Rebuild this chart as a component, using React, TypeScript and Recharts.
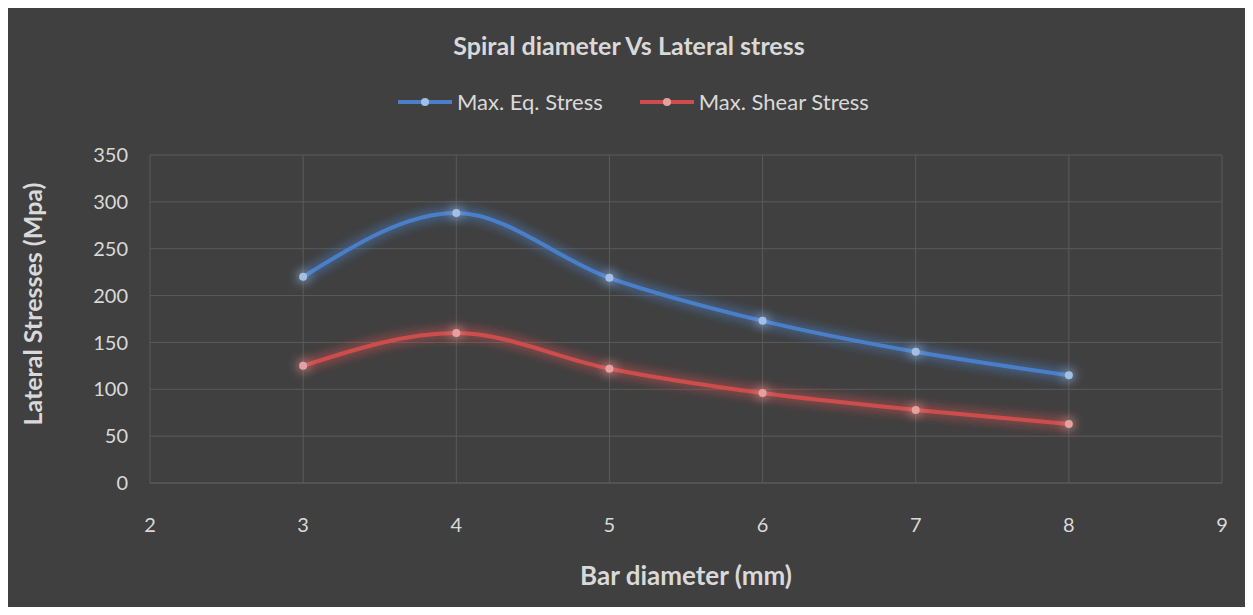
import React from "react";
import { LineChart, Line, XAxis, YAxis, CartesianGrid } from "recharts";

const barDiameters = [3, 4, 5, 6, 7, 8];
const maxEqStress = [220, 288, 219, 173, 140, 115];
const maxShearStress = [125, 160, 122, 96, 78, 63];
const xTicks = [2, 3, 4, 5, 6, 7, 8, 9];
const yTicks = [0, 50, 100, 150, 200, 250, 300, 350];

const FONT = "Lato, 'Open Sans', sans-serif";
const TEXT = "#d9d9d9";
const BLUE = "#4a7fc8";
const RED = "#cd4d4d";

const data = barDiameters.map((d, i) => ({
  d,
  eq: maxEqStress[i],
  shear: maxShearStress[i],
}));

const legendItems = [
  { label: "Max. Eq. Stress", color: BLUE, dot: "#a3bfe4" },
  { label: "Max. Shear Stress", color: RED, dot: "#e6a0a0" },
];

const LegendBox = () => (
  <div
    style={{
      position: "absolute",
      top: 81,
      left: 393,
      display: "flex",
      gap: 37,
      fontFamily: FONT,
      fontSize: 22,
      color: TEXT,
      lineHeight: "26px",
    }}
  >
    {legendItems.map((it) => (
      <div key={it.label} style={{ display: "flex", alignItems: "center", gap: 5 }}>
        <svg width={54} height={12}>
          <line x1={0} y1={6} x2={54} y2={6} stroke={it.color} strokeWidth={4} />
          <circle cx={27} cy={6} r={4} fill={it.dot} />
        </svg>
        <span>{it.label}</span>
      </div>
    ))}
  </div>
);

const titleStyle: React.CSSProperties = {
  position: "absolute",
  fontFamily: FONT,
  fontWeight: 700,
  fontSize: 25,
  color: TEXT,
  whiteSpace: "nowrap",
  lineHeight: "28px",
};

const App = () => {
  return (
    <div style={{ margin: -8, width: 1253, height: 615, background: "#d4d4d4", position: "relative" }}>
      <div style={{ position: "absolute", left: 5, top: 8, width: 1248, height: 607, background: "#404040" }}>
        <LineChart width={1248} height={607} data={data} margin={{ top: 147, right: 31, bottom: 0, left: 0 }}>
          <defs>
            <filter id="glow" filterUnits="userSpaceOnUse" x={0} y={0} width={1248} height={607}>
              <feGaussianBlur in="SourceGraphic" stdDeviation="6" result="blur" />
              <feComponentTransfer in="blur" result="soft">
                <feFuncA type="linear" slope="1.4" />
              </feComponentTransfer>
              <feMerge>
                <feMergeNode in="soft" />
                <feMergeNode in="SourceGraphic" />
              </feMerge>
            </filter>
          </defs>
          <CartesianGrid stroke="#5a5a5a" strokeWidth={1} />
          <XAxis
            type="number"
            dataKey="d"
            domain={[2, 9]}
            ticks={xTicks}
            height={132}
            axisLine={{ stroke: "#5a5a5a" }}
            tickLine={false}
            tickMargin={29}
            tick={{ fill: TEXT, fontSize: 20, fontFamily: FONT }}
          />
          <YAxis
            width={145}
            domain={[0, 350]}
            ticks={yTicks}
            axisLine={false}
            tickLine={false}
            tickMargin={16}
            tick={{ fill: TEXT, fontSize: 20, fontFamily: FONT }}
          />
          <Line
            type="monotoneX"
            dataKey="eq"
            stroke={BLUE}
            strokeWidth={4}
            filter="url(#glow)"
            dot={{ r: 4, fill: "#a3bfe4", stroke: "none" }}
            isAnimationActive={false}
          />
          <Line
            type="monotoneX"
            dataKey="shear"
            stroke={RED}
            strokeWidth={4}
            filter="url(#glow)"
            dot={{ r: 4, fill: "#e6a0a0", stroke: "none" }}
            isAnimationActive={false}
          />
        </LineChart>
        <div style={{ ...titleStyle, top: 23, left: 0, width: 1248, textAlign: "center" }}>
          Spiral diameter Vs Lateral stress
        </div>
        <LegendBox />
        <div style={{ ...titleStyle, fontSize: 26, top: 553, left: 681 - 300, width: 600, textAlign: "center" }}>
          Bar diameter (mm)
        </div>
        <div
          style={{
            ...titleStyle,
            top: 296 - 14,
            left: 27 - 150,
            width: 300,
            textAlign: "center",
            transform: "rotate(-90deg)",
          }}
        >
          Lateral Stresses (Mpa)
        </div>
      </div>
    </div>
  );
};

export default App;
